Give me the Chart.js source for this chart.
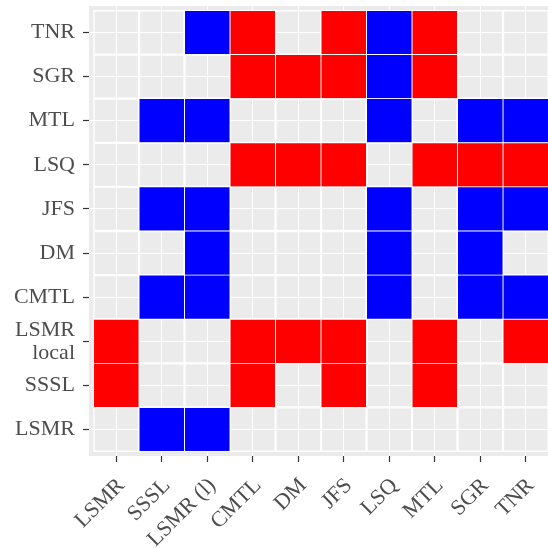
<!DOCTYPE html>
<html>
<head>
<meta charset="utf-8">
<script src="https://cdn.jsdelivr.net/npm/chart.js@4/dist/chart.umd.min.js"></script>
<style>
  html, body { margin: 0; padding: 0; background: #ffffff; }
  #wrap { width: 548px; height: 548px; position: relative; }
</style>
</head>
<body>
<div id="wrap"><canvas id="c"></canvas></div>
<script>
// Columns (x axis, left to right)
const colLabels = ['LSMR', 'SSSL', 'LSMR (l)', 'CMTL', 'DM', 'JFS', 'LSQ', 'MTL', 'SGR', 'TNR'];
// Rows (y axis, bottom to top)
const rowLabels = ['LSMR', 'SSSL', ['LSMR', 'local'], 'CMTL', 'DM', 'JFS', 'LSQ', 'MTL', 'SGR', 'TNR'];

// Pairwise outcome per row: 1 = red, -1 = blue, 0 = no difference
const rowLSMR      = [ 0, -1, -1,  0,  0,  0,  0,  0,  0,  0];
const rowSSSL      = [ 1,  0,  0,  1,  0,  1,  0,  1,  0,  0];
const rowLSMRlocal = [ 1,  0,  0,  1,  1,  1,  0,  1,  0,  1];
const rowCMTL      = [ 0, -1, -1,  0,  0,  0, -1,  0, -1, -1];
const rowDM        = [ 0,  0, -1,  0,  0,  0, -1,  0, -1,  0];
const rowJFS       = [ 0, -1, -1,  0,  0,  0, -1,  0, -1, -1];
const rowLSQ       = [ 0,  0,  0,  1,  1,  1,  0,  1,  1,  1];
const rowMTL       = [ 0, -1, -1,  0,  0,  0, -1,  0, -1, -1];
const rowSGR       = [ 0,  0,  0,  1,  1,  1, -1,  1,  0,  0];
const rowTNR       = [ 0,  0, -1,  1,  0,  1, -1,  1,  0,  0];

const outcomeRows = [rowLSMR, rowSSSL, rowLSMRlocal, rowCMTL, rowDM, rowJFS, rowLSQ, rowMTL, rowSGR, rowTNR];

const RED = '#FF0000';
const BLUE = '#0000FF';
const fillFor = v => v > 0 ? RED : (v < 0 ? BLUE : 'rgba(0,0,0,0)');

// One floating-bar dataset per row; each bar spans one tile
const datasets = outcomeRows.map((vals, r) => ({
  label: Array.isArray(rowLabels[r]) ? rowLabels[r].join(' ') : rowLabels[r],
  data: vals.map((v, c) => ({ x: c + 1, y: [r + 0.5, r + 1.5] })),
  backgroundColor: vals.map(fillFor),
  borderColor: '#FFFFFF',
  borderWidth: 0.8,
  borderSkipped: false,
  grouped: false,
  barPercentage: 1,
  categoryPercentage: 1
}));

const panelBackground = {
  id: 'panelBackground',
  beforeDraw(chart) {
    const { ctx, chartArea: a } = chart;
    ctx.save();
    ctx.fillStyle = '#EBEBEB';
    ctx.fillRect(a.left, a.top, a.right - a.left, a.bottom - a.top);
    ctx.restore();
  }
};

const labelFont = { family: "'Liberation Serif', 'Times New Roman', serif", size: 22, lineHeight: 1.05 };
const integerTicks = scale => { scale.ticks = colLabels.map((_, i) => ({ value: i + 1 })); };
const noEdgePadding = s => { s.paddingTop = 0; s.paddingBottom = 0; s.paddingLeft = 0; s.paddingRight = 0; };

new Chart(document.getElementById('c'), {
  type: 'bar',
  data: { datasets },
  options: {
    responsive: true,
    maintainAspectRatio: false,
    animation: false,
    layout: { padding: { top: 6, right: 0, bottom: 0, left: 0 } },
    plugins: { legend: { display: false }, tooltip: { enabled: false } },
    scales: {
      x: {
        type: 'linear',
        min: 0.4,
        max: 10.488,
        offset: false,
        afterBuildTicks: integerTicks,
        afterFit: s => { s.height = 92; noEdgePadding(s); },
        border: { display: false },
        grid: { color: '#FFFFFF', lineWidth: 1, offset: false, tickColor: '#333333', tickLength: 6, tickWidth: 1.2 },
        ticks: {
          autoSkip: false,
          minRotation: 45,
          maxRotation: 45,
          padding: 12,
          labelOffset: 5,
          color: '#4D4D4D',
          font: labelFont,
          callback: v => colLabels[v - 1]
        }
      },
      y: {
        type: 'linear',
        min: 0.4,
        max: 10.6,
        afterBuildTicks: integerTicks,
        afterFit: s => { s.width = 89; noEdgePadding(s); },
        border: { display: false },
        grid: { color: '#FFFFFF', lineWidth: 1, tickColor: '#333333', tickLength: 6, tickWidth: 1.2 },
        ticks: {
          autoSkip: false,
          padding: 8,
          color: '#4D4D4D',
          font: labelFont,
          callback: v => rowLabels[v - 1]
        }
      }
    }
  },
  plugins: [panelBackground]
});
</script>
</body>
</html>
